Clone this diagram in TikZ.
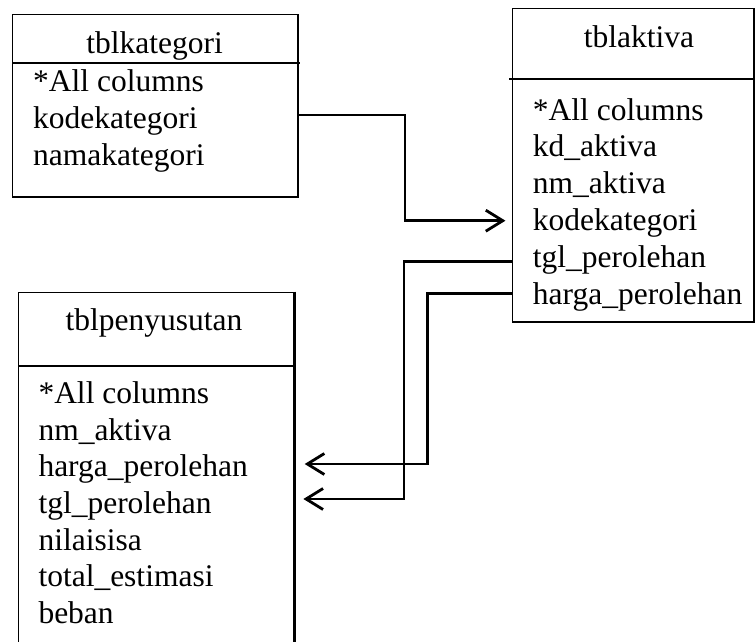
\documentclass[tikz,border=0pt]{standalone}
\usepackage{fontspec}
\setmainfont{Liberation Serif}
\usetikzlibrary{arrows.meta}
\begin{document}
\begin{tikzpicture}[x=1pt,y=-1pt,
  tbl/.style={draw, line width=1.4pt, inner sep=0pt},
  hdr/.style={line width=2pt},
  row/.style={anchor=base west, inner sep=0pt, font=\fontsize{31.5}{37}\selectfont},
  ttl/.style={anchor=base, inner sep=0pt, font=\fontsize{31.5}{37}\selectfont},
  conn/.style={line width=2.8pt, -{Straight Barb[length=17pt,width=21pt]}}]
\useasboundingbox (0,0) rectangle (755,642);
% boxes
\node[tbl, minimum width=285.3pt, minimum height=182.7pt] (kat) at (155.3,105.7) {};
\node[tbl, minimum width=241.3pt, minimum height=313.7pt] (akt) at (633.3,165.2) {};
\node[tbl, minimum width=275pt, minimum height=367.7pt] (pen) at (155.8,476.2) {};
\draw[line width=3pt] (pen.north east) -- (pen.south east);
% header lines
\draw[hdr] (12.7,62.7) -- (300,62.7);
\draw[hdr] (509,79) -- (755,79);
\draw[hdr] (18.3,365.7) -- (293.3,365.7);
% tblkategori
\node[ttl] (katT) at (154.5,53.3) {tblkategori};
\node[row] (kat1) at (33,91.7) {*All columns};
\node[row] (kat2) at (33,128.7) {kodekategori};
\node[row] (kat3) at (33,165.7) {namakategori};
% tblaktiva
\node[ttl] (aktT) at (639,47.7) {tblaktiva};
\node[row] (akt1) at (532.7,120) {*All columns};
\node[row] (akt2) at (532.7,156.8) {kd\_aktiva};
\node[row] (akt3) at (532.7,193.6) {nm\_aktiva};
\node[row] (akt4) at (532.7,230.4) {kodekategori};
\node[row] (akt5) at (532.7,267.2) {tgl\_perolehan};
\node[row] (akt6) at (532.7,304) {harga\_perolehan};
% tblpenyusutan
\node[ttl] (penT) at (154,330.7) {tblpenyusutan};
\node[row] (pen1) at (38.3,403.3) {*All columns};
\node[row] (pen2) at (38.3,440) {nm\_aktiva};
\node[row] (pen3) at (38.3,476.7) {harga\_perolehan};
\node[row] (pen4) at (38.3,513.4) {tgl\_perolehan};
\node[row] (pen5) at (38.3,550.1) {nilaisisa};
\node[row] (pen6) at (38.3,586.8) {total\_estimasi};
\node[row] (pen7) at (38.3,623.5) {beban};
% connector bend points
\coordinate (k1) at (405,115);
\coordinate (k2) at (405,220.7);
\coordinate (t1) at (404,261.7);
\coordinate (t2) at (404,499);
\coordinate (h1) at (427.7,293.3);
\coordinate (h2) at (427.7,464);
% connectors
\draw[conn, shorten >=6.5pt] (kat.east |- k1) -- (k1) -- (k2) -- (akt.west |- k2);
\draw[conn, shorten >=9.4pt] (akt.west |- t1) -- (t1) -- (t2) -- (pen.east |- t2);
\draw[conn, shorten >=10.7pt] (akt.west |- h1) -- (h1) -- (h2) -- (pen.east |- h2);
\end{tikzpicture}
\end{document}
